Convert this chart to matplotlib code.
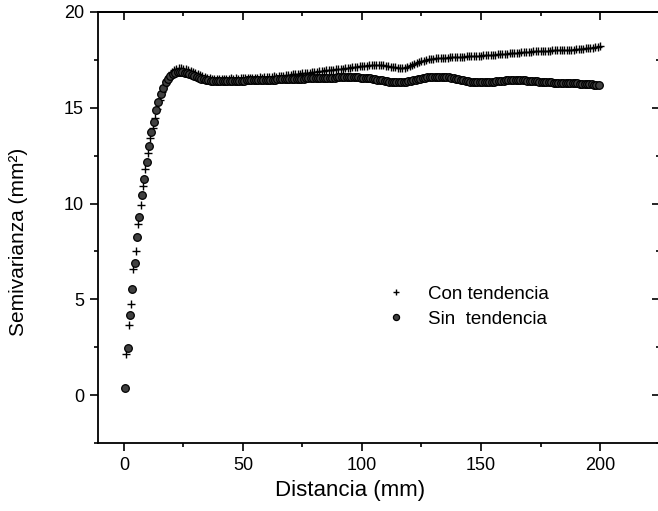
import numpy as np
import matplotlib
matplotlib.use("Agg")
import matplotlib.pyplot as plt
from matplotlib.ticker import MultipleLocator

plt.rcParams['font.family'] = ['Liberation Sans', 'DejaVu Sans']

# semivariograma experimental, paso de 1 mm
lag_con = np.arange(1, 201)
lag_sin = np.arange(0.5, 200.5)

con_tendencia = [
    2.14, 3.67, 4.77, 6.56, 7.50, 8.93, 9.92, 10.90, 11.78, 12.65,
    13.40, 13.95, 14.45, 14.95, 15.40, 15.80, 16.15, 16.45, 16.68, 16.85,
    16.95, 17.02, 17.06, 17.08, 17.05, 17.02, 16.98, 16.92, 16.88, 16.82,
    16.76, 16.72, 16.66, 16.62, 16.58, 16.56, 16.52, 16.50, 16.50, 16.48,
    16.50, 16.48, 16.52, 16.50, 16.53, 16.51, 16.54, 16.52, 16.55, 16.53,
    16.56, 16.54, 16.57, 16.55, 16.58, 16.56, 16.59, 16.58, 16.60, 16.60,
    16.62, 16.61, 16.64, 16.63, 16.66, 16.66, 16.68, 16.69, 16.71, 16.72,
    16.74, 16.75, 16.77, 16.78, 16.80, 16.81, 16.83, 16.84, 16.86, 16.87,
    16.89, 16.90, 16.92, 16.93, 16.95, 16.96, 16.98, 16.99, 17.01, 17.02,
    17.04, 17.05, 17.07, 17.08, 17.10, 17.11, 17.13, 17.14, 17.16, 17.17,
    17.19, 17.20, 17.22, 17.23, 17.24, 17.25, 17.25, 17.24, 17.22, 17.20,
    17.18, 17.15, 17.13, 17.11, 17.10, 17.09, 17.09, 17.10, 17.13, 17.17,
    17.22, 17.27, 17.32, 17.37, 17.42, 17.46, 17.50, 17.53, 17.55, 17.57,
    17.58, 17.59, 17.60, 17.61, 17.62, 17.62, 17.63, 17.64, 17.64, 17.65,
    17.66, 17.66, 17.67, 17.68, 17.68, 17.69, 17.70, 17.70, 17.71, 17.72,
    17.73, 17.74, 17.75, 17.76, 17.77, 17.78, 17.79, 17.80, 17.81, 17.82,
    17.83, 17.84, 17.85, 17.86, 17.87, 17.88, 17.89, 17.90, 17.91, 17.92,
    17.93, 17.94, 17.95, 17.96, 17.97, 17.98, 17.98, 17.99, 17.99, 18.00,
    18.00, 18.00, 18.01, 18.01, 18.02, 18.02, 18.03, 18.03, 18.04, 18.05,
    18.06, 18.07, 18.08, 18.10, 18.11, 18.13, 18.14, 18.16, 18.18, 18.20,
]

sin_tendencia = [
    0.35, 2.47, 4.20, 5.52, 6.91, 8.27, 9.28, 10.43, 11.30, 12.18,
    13.00, 13.73, 14.26, 14.88, 15.30, 15.70, 16.05, 16.32, 16.52, 16.66,
    16.76, 16.82, 16.86, 16.87, 16.86, 16.83, 16.79, 16.74, 16.69, 16.64,
    16.59, 16.55, 16.51, 16.48, 16.45, 16.43, 16.41, 16.40, 16.39, 16.38,
    16.38, 16.38, 16.39, 16.39, 16.40, 16.40, 16.41, 16.41, 16.42, 16.42,
    16.42, 16.43, 16.43, 16.43, 16.44, 16.44, 16.44, 16.45, 16.45, 16.45,
    16.46, 16.46, 16.47, 16.47, 16.48, 16.48, 16.48, 16.49, 16.49, 16.49,
    16.50, 16.50, 16.51, 16.51, 16.52, 16.52, 16.53, 16.53, 16.54, 16.54,
    16.55, 16.55, 16.56, 16.56, 16.57, 16.57, 16.58, 16.58, 16.58, 16.59,
    16.59, 16.59, 16.60, 16.60, 16.60, 16.60, 16.60, 16.59, 16.59, 16.58,
    16.57, 16.56, 16.55, 16.53, 16.51, 16.49, 16.47, 16.45, 16.43, 16.41,
    16.39, 16.37, 16.36, 16.35, 16.34, 16.34, 16.34, 16.35, 16.36, 16.38,
    16.40, 16.43, 16.46, 16.49, 16.52, 16.55, 16.57, 16.59, 16.60, 16.61,
    16.62, 16.62, 16.62, 16.62, 16.61, 16.60, 16.59, 16.57, 16.55, 16.52,
    16.49, 16.46, 16.43, 16.40, 16.38, 16.36, 16.35, 16.34, 16.33, 16.33,
    16.33, 16.33, 16.34, 16.35, 16.36, 16.37, 16.38, 16.40, 16.41, 16.42,
    16.43, 16.44, 16.45, 16.45, 16.46, 16.46, 16.45, 16.44, 16.43, 16.42,
    16.41, 16.40, 16.39, 16.38, 16.37, 16.36, 16.35, 16.34, 16.33, 16.32,
    16.31, 16.31, 16.30, 16.30, 16.29, 16.29, 16.28, 16.28, 16.28, 16.27,
    16.27, 16.26, 16.26, 16.25, 16.24, 16.23, 16.22, 16.21, 16.20, 16.19,
]

fig = plt.figure(figsize=(6.58, 5.11), dpi=100)
ax = fig.add_axes([98 / 658, 68 / 511, 562 / 658, 431 / 511])

ax.plot(lag_con, con_tendencia, linestyle="none", marker="+", color="black",
        markersize=6, markeredgewidth=1.0, label="Con tendencia")
ax.plot(lag_sin, sin_tendencia, linestyle="none", marker="o", markersize=5.5,
        markerfacecolor="#404040", markeredgecolor="black", markeredgewidth=0.9,
        label="Sin  tendencia")

ax.set_xlim(-10.9, 225.2)
ax.set_ylim(-2.5, 20.0)

ax.xaxis.set_major_locator(MultipleLocator(50))
ax.xaxis.set_minor_locator(MultipleLocator(25))
ax.yaxis.set_major_locator(MultipleLocator(5))
ax.yaxis.set_minor_locator(MultipleLocator(2.5))
ax.tick_params(which="major", direction="out", length=6, width=1.2,
               labelsize=13, pad=4, top=False, right=False)
ax.tick_params(which="minor", direction="out", length=3, width=1.2,
               top=False, right=False)

# ticks hacia dentro arriba y a la derecha
top = ax.secondary_xaxis("top")
top.xaxis.set_major_locator(MultipleLocator(50))
top.xaxis.set_minor_locator(MultipleLocator(25))
top.tick_params(which="major", direction="in", length=6, width=1.2, labeltop=False)
top.tick_params(which="minor", direction="in", length=3, width=1.2)
top.spines["top"].set_linewidth(1.3)

right = ax.secondary_yaxis("right")
right.yaxis.set_major_locator(MultipleLocator(5))
right.yaxis.set_minor_locator(MultipleLocator(2.5))
right.tick_params(which="major", direction="in", length=6, width=1.2, labelright=False)
right.tick_params(which="minor", direction="in", length=3, width=1.2)

for s in ax.spines.values():
    s.set_linewidth(1.3)

ax.set_xlabel("Distancia (mm)", fontsize=16)
ax.set_ylabel("Semivarianza (mm²)", fontsize=15)
ax.xaxis.set_label_coords(0.448, -0.086)
ax.yaxis.set_label_coords(-0.125, 0.467)

ax.legend(loc="upper left", bbox_to_anchor=(0.514, 0.365), frameon=False,
          fontsize=13.5, handlelength=1.0, handletextpad=1.2, labelspacing=0.42,
          borderpad=0, borderaxespad=0, markerscale=0.8)

fig.savefig("out.png", dpi=100)
